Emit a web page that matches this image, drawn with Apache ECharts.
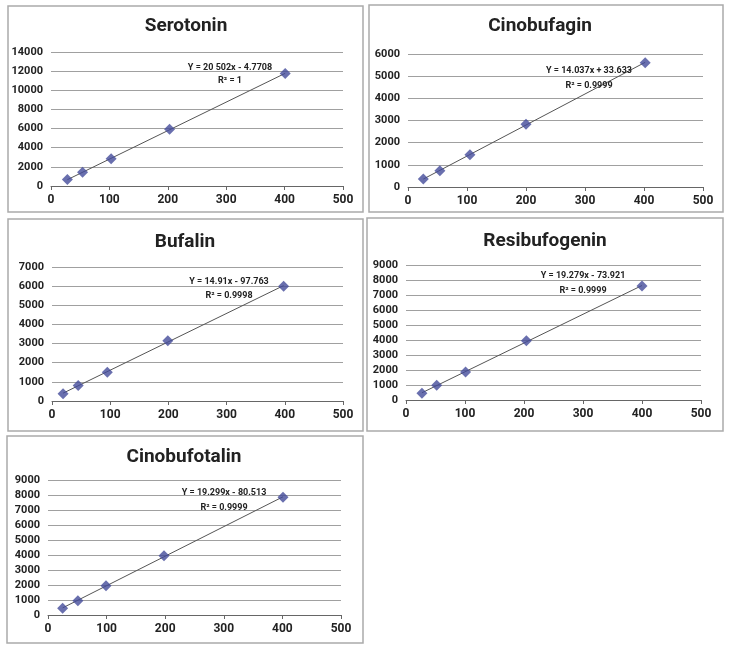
<!DOCTYPE html>
<html>
<head>
<meta charset="utf-8">
<script src="https://cdn.jsdelivr.net/npm/echarts@6/dist/echarts.min.js"></script>
<style>
html,body{margin:0;padding:0;background:#fff;}
#chart{width:730px;height:653px;}
</style>
</head>
<body>
<div id="chart"></div>
<script>
// ---- Data ----
const titles = ["Serotonin", "Cinobufagin", "Bufalin", "Resibufogenin", "Cinobufotalin"];
const equations = ["Y = 20 502x - 4.7708", "Y = 14.037x + 33.633", "Y = 14.91x - 97.763", "Y = 19.279x - 73.921", "Y = 19.299x - 80.513"];
const rSquared = ["R\u00b2 = 1", "R\u00b2 = 0.9999", "R\u00b2 = 0.9998", "R\u00b2 = 0.9999", "R\u00b2 = 0.9999"];

const serotoninX = [28, 54, 103, 203, 401];
const serotoninY = [670, 1440, 2840, 5920, 11760];
const cinobufaginX = [26, 54, 105, 200, 402];
const cinobufaginY = [360, 735, 1455, 2835, 5610];
const bufalinX = [19, 45, 95, 199, 398];
const bufalinY = [385, 805, 1505, 3150, 6000];
const resibufogeninX = [27, 52, 101, 204, 400];
const resibufogeninY = [445, 980, 1870, 3955, 7600];
const cinobufotalinX = [25, 51, 99, 198, 401];
const cinobufotalinY = [445, 955, 1955, 3955, 7845];

const xTicks = [0, 100, 200, 300, 400, 500];
const yMax = [14000, 6000, 7000, 9000, 9000];
const yStep = [2000, 1000, 1000, 1000, 1000];

const seriesX = [serotoninX, cinobufaginX, bufalinX, resibufogeninX, cinobufotalinX];
const seriesY = [serotoninY, cinobufaginY, bufalinY, resibufogeninY, cinobufotalinY];

// ---- Layout ----
const grids = [
  {left: 51, top: 52, width: 292, height: 134},
  {left: 408, top: 54, width: 295, height: 133},
  {left: 52, top: 267, width: 291, height: 134},
  {left: 406, top: 265, width: 295, height: 135},
  {left: 48, top: 480, width: 293, height: 135}
];
const boxes = [
  {x: 8, y: 6, w: 355, h: 206},
  {x: 369, y: 5, w: 354, h: 207},
  {x: 8, y: 219, w: 355, h: 212},
  {x: 367, y: 218, w: 356, h: 213},
  {x: 7, y: 436, w: 356, h: 207}
];
const titlePos = [{x: 186, y: 26}, {x: 540, y: 26}, {x: 185, y: 242}, {x: 545, y: 241}, {x: 184, y: 457}];
const eqPos = [{x: 230, y: 68, ry: 81}, {x: 589, y: 71, ry: 86}, {x: 229, y: 282, ry: 296}, {x: 583, y: 276, ry: 291}, {x: 224, y: 493, ry: 508}];

const FONT = "'Roboto', 'DejaVu Sans', sans-serif";

function fit(xs, ys) {
  const n = xs.length;
  let sx = 0, sy = 0, sxx = 0, sxy = 0;
  for (let i = 0; i < n; i++) { sx += xs[i]; sy += ys[i]; sxx += xs[i]*xs[i]; sxy += xs[i]*ys[i]; }
  const b = (n*sxy - sx*sy) / (n*sxx - sx*sx);
  const a = (sy - b*sx) / n;
  const x0 = Math.min(...xs), x1 = Math.max(...xs);
  return [[x0, a + b*x0], [x1, a + b*x1]];
}

const plain = v => String(v);

const option = {
  animation: false,
  backgroundColor: '#fff',
  grid: grids.map(g => Object.assign({containLabel: false}, g)),
  xAxis: grids.map((g, i) => ({
    type: 'value', gridIndex: i, min: 0, max: 500, interval: 100,
    axisLine: {show: true, lineStyle: {color: '#666', width: 1}},
    axisTick: {show: true, length: 4, lineStyle: {color: '#666'}},
    splitLine: {show: false},
    axisLabel: {color: '#222', fontSize: 12, fontWeight: 'bold', fontFamily: FONT, margin: 8, formatter: plain}
  })),
  yAxis: grids.map((g, i) => ({
    type: 'value', gridIndex: i, min: 0, max: yMax[i], interval: yStep[i],
    axisLine: {show: false},
    axisTick: {show: false},
    splitLine: {show: true, lineStyle: {color: '#a0a0a0', width: 1}},
    axisLabel: {color: '#222', fontSize: 11, fontWeight: 'bold', fontFamily: FONT, margin: 8, formatter: plain}
  })),
  series: [],
  graphic: []
};

seriesX.forEach((xs, i) => {
  option.series.push({
    type: 'line', xAxisIndex: i, yAxisIndex: i,
    data: fit(xs, seriesY[i]), symbol: 'none',
    lineStyle: {color: '#555', width: 1}, z: 2
  });
  option.series.push({
    type: 'scatter', xAxisIndex: i, yAxisIndex: i,
    data: xs.map((x, k) => [x, seriesY[i][k]]),
    symbol: 'diamond', symbolSize: 11,
    itemStyle: {color: '#434b9a'}, z: 3
  });
  const b = boxes[i];
  option.graphic.push({
    type: 'rect', shape: {x: b.x, y: b.y, width: b.w, height: b.h},
    style: {fill: 'none', stroke: '#aaa', lineWidth: 1.5}, silent: true
  });
  option.graphic.push({
    type: 'text', x: titlePos[i].x, y: titlePos[i].y,
    style: {text: titles[i], fill: '#222', font: "bold 19px " + FONT, align: 'center', verticalAlign: 'middle'}
  });
  option.graphic.push({
    type: 'text', x: eqPos[i].x, y: eqPos[i].y,
    style: {text: equations[i], fill: '#222', font: "bold 9px " + FONT, align: 'center', verticalAlign: 'middle'}, z: 10
  });
  option.graphic.push({
    type: 'text', x: eqPos[i].x, y: eqPos[i].ry,
    style: {text: rSquared[i], fill: '#222', font: "bold 9px " + FONT, align: 'center', verticalAlign: 'middle'}, z: 10
  });
});

const chart = echarts.init(document.getElementById('chart'), null, {renderer: 'canvas'});
chart.setOption(option);
</script>
</body>
</html>
